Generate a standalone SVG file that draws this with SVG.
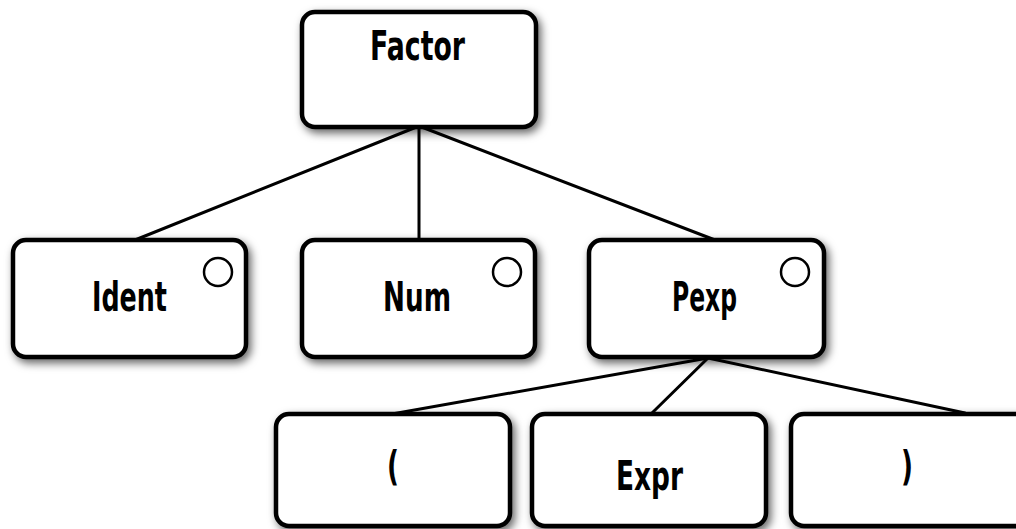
<svg xmlns="http://www.w3.org/2000/svg" width="1016" height="529" viewBox="0 0 1016 529">
  <defs>
    <filter id="shadow" x="-10%" y="-10%" width="125%" height="130%">
      <feDropShadow dx="3" dy="4" stdDeviation="4" flood-color="#000" flood-opacity="0.6"/>
    </filter>
  </defs>
  <style>
    .box { fill: #fff; stroke: #000; stroke-width: 4.5; filter: url(#shadow); }
    .port { fill: #fff; stroke: #000; stroke-width: 2.5; }
    .edge { fill: none; stroke: #000; stroke-width: 3; stroke-linecap: round; }
    .label { font-family: "DejaVu Sans", sans-serif; font-weight: bold; font-size: 41px; fill: #000; }
  </style>

  <!-- tree edges -->
  <g id="connectors">
    <line class="edge" x1="419" y1="126" x2="135" y2="240"/>
    <line class="edge" x1="419" y1="126" x2="419" y2="240"/>
    <line class="edge" x1="419" y1="126" x2="715" y2="240"/>
    <line class="edge" x1="708" y1="358" x2="392" y2="414"/>
    <line class="edge" x1="708" y1="358" x2="652" y2="413"/>
    <line class="edge" x1="708" y1="358" x2="965" y2="413"/>
  </g>

  <g id="factor">
    <rect class="box" x="302" y="12" width="234" height="115" rx="13"/>
    <text class="label" x="370" y="60" textLength="95" lengthAdjust="spacingAndGlyphs">Factor</text>
  </g>

  <g id="ident">
    <rect class="box" x="13" y="240" width="233" height="117" rx="13"/>
    <circle class="port" cx="218" cy="272" r="14"/>
    <text class="label" x="92" y="311" textLength="75" lengthAdjust="spacingAndGlyphs">Ident</text>
  </g>

  <g id="num">
    <rect class="box" x="302" y="240" width="233" height="117" rx="13"/>
    <circle class="port" cx="507" cy="272" r="14"/>
    <text class="label" x="383" y="311" textLength="68" lengthAdjust="spacingAndGlyphs">Num</text>
  </g>

  <g id="pexp">
    <rect class="box" x="589" y="240" width="235" height="117" rx="13"/>
    <circle class="port" cx="795" cy="272" r="14"/>
    <text class="label" x="672" y="311" textLength="65" lengthAdjust="spacingAndGlyphs">Pexp</text>
  </g>

  <g id="lparen">
    <rect class="box" x="276" y="414" width="234" height="112" rx="13"/>
    <text class="label" x="387" y="480" textLength="12" lengthAdjust="spacingAndGlyphs">(</text>
  </g>

  <g id="expr">
    <rect class="box" x="532" y="414" width="234" height="112" rx="13"/>
    <text class="label" x="616" y="490" textLength="67" lengthAdjust="spacingAndGlyphs">Expr</text>
  </g>

  <g id="rparen">
    <rect class="box" x="791" y="414" width="240" height="112" rx="13"/>
    <text class="label" x="901" y="480" textLength="12" lengthAdjust="spacingAndGlyphs">)</text>
  </g>
</svg>
